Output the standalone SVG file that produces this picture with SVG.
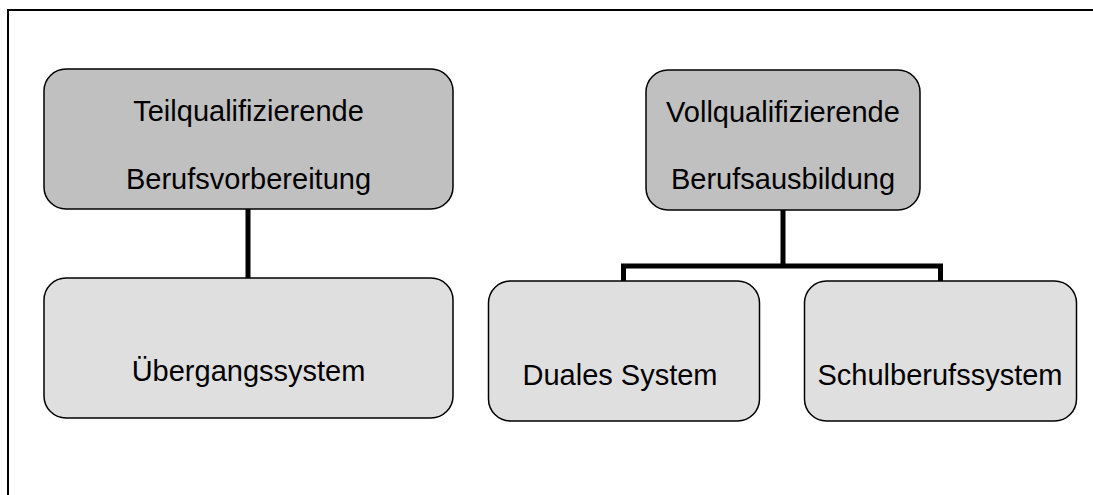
<svg xmlns="http://www.w3.org/2000/svg" width="1093" height="495" viewBox="0 0 1093 495">
<style>
.dark{fill:#c0c0c0;stroke:#000;stroke-width:1.5}
.light{fill:#dfdfdf;stroke:#000;stroke-width:1.5}
.t{font-family:"Liberation Sans",Arial,sans-serif;font-size:29px;fill:#000;text-anchor:middle}
.c{stroke:#000;stroke-width:5;fill:none;stroke-linecap:butt}
</style>
<rect width="1093" height="495" fill="#fff"/>
<path d="M8,495 V10 H1093" fill="none" stroke="#000" stroke-width="2"/>
<g id="connectors">
<line class="c" x1="248" y1="209" x2="248" y2="278"/>
<line class="c" x1="783" y1="210" x2="783" y2="266"/>
<polyline class="c" points="623.5,281 623.5,266 940.5,266 940.5,281"/>
</g>
<g id="teilqualifizierende">
<rect class="dark" x="44" y="69" width="409" height="140" rx="22" ry="22"/>
<text class="t" x="248.5" y="120.5">Teilqualifizierende</text>
<text class="t" x="248.5" y="188.5">Berufsvorbereitung</text>
</g>
<g id="vollqualifizierende">
<rect class="dark" x="646" y="70" width="274" height="140" rx="22" ry="22"/>
<text class="t" x="783" y="121.5">Vollqualifizierende</text>
<text class="t" x="783" y="188.5">Berufsausbildung</text>
</g>
<g id="uebergangssystem">
<rect class="light" x="44" y="278" width="409" height="140" rx="22" ry="22"/>
<text class="t" x="248.5" y="381">Übergangssystem</text>
</g>
<g id="duales">
<rect class="light" x="488.5" y="281" width="271" height="140" rx="22" ry="22"/>
<text class="t" x="620" y="384.5">Duales System</text>
</g>
<g id="schulberufssystem">
<rect class="light" x="804.5" y="281" width="272" height="140" rx="22" ry="22"/>
<text class="t" x="940" y="384.5">Schulberufssystem</text>
</g>
</svg>
